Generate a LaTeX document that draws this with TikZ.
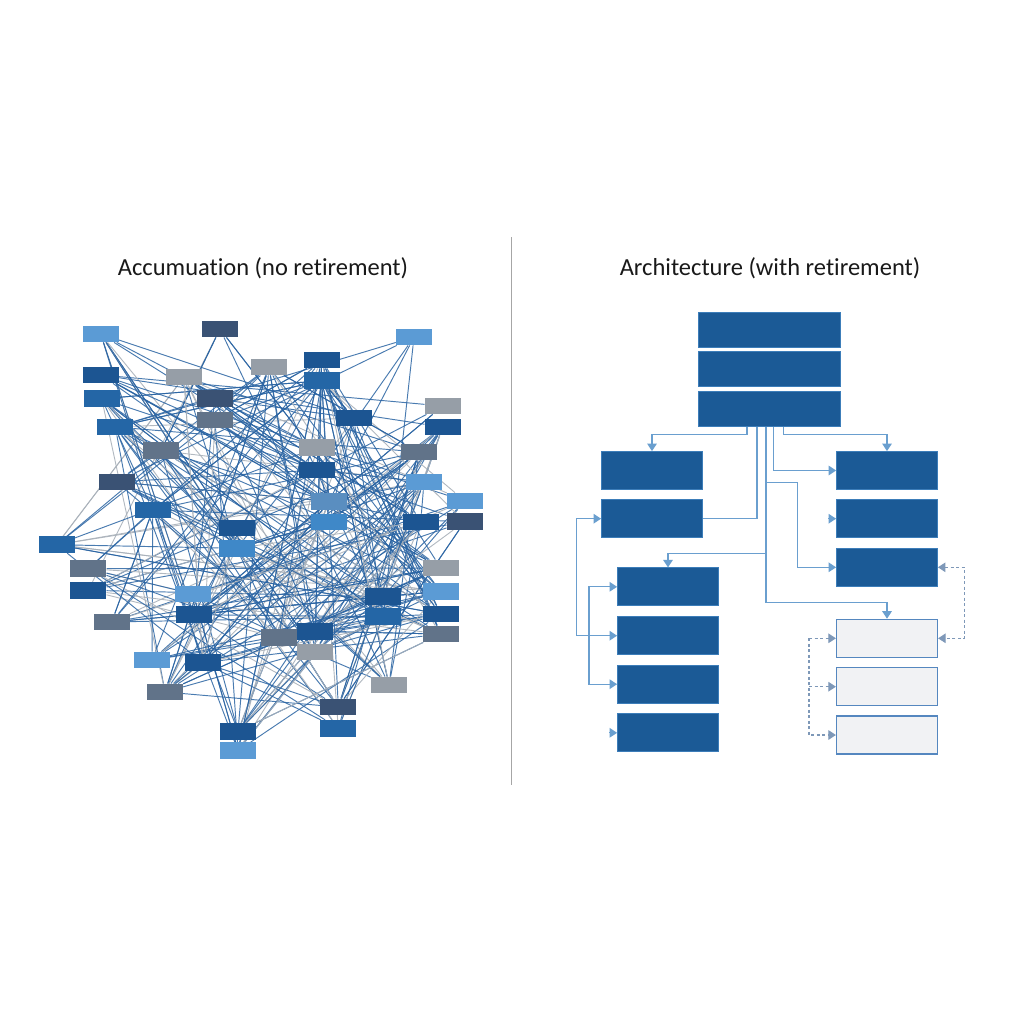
\documentclass[tikz,border=0pt]{standalone}
\usepackage{fontspec}
\setmainfont{Carlito}[Ligatures=NoCommon]
\usetikzlibrary{arrows.meta,calc}
\pgfdeclarelayer{bg}
\pgfdeclarelayer{paper}
\pgfsetlayers{paper,bg,main}
\definecolor{lb}{HTML}{5B9BD5}
\definecolor{ds}{HTML}{3A5274}
\definecolor{gr}{HTML}{969EA7}
\definecolor{db}{HTML}{1C5592}
\definecolor{bl}{HTML}{2466A6}
\definecolor{sl}{HTML}{617389}
\definecolor{mb}{HTML}{5A8EC0}
\definecolor{mc}{HTML}{3F88C8}
\definecolor{rblue}{HTML}{1B5A96}
\definecolor{rbord}{HTML}{3C7DB9}
\definecolor{rline}{HTML}{6A9FCF}
\definecolor{dline}{HTML}{7E98B8}
\definecolor{lfill}{HTML}{F1F2F4}
\definecolor{ledge}{HTML}{5587BF}
\definecolor{eblue}{HTML}{2A64A3}
\definecolor{egrey}{HTML}{A9B1BA}
\def\XS{{100.7,220,414,269,321.7,321.7,101,101.7,184,214.7,215,442.7,442.7,353.7,115.3,161,317,419,317,116.7,424,465,152.7,329,329.3,420.7,464.7,236.7,236.7,56.7,88.3,88.3,440.7,440.7,193.3,193.7,383.3,383.3,440.7,440.7,111.7,278.7,315,315,152,202.7,165,389,338.3,338.3,238,238}}
\def\YS{{334,329,337,367,360,380.7,375,398.7,377,398.7,420,406,427,418,427,450.7,447.7,452,470,482,482,501,510,501.3,522,522,521.7,528,548.3,544.7,568.7,590.3,568,591.3,594,614.7,596.7,616.7,614,634,622,637.7,631.3,652,660,662.7,692,685,707,728.3,731.3,750.7}}
\begin{document}
\begin{tikzpicture}[x=1pt,y=-1pt,
  lbx/.style={minimum width=36pt,minimum height=16.5pt,inner sep=0pt,draw=none},
  bedge/.style={eblue,line width=0.95pt,opacity=0.85},
  gedge/.style={egrey,line width=0.9pt,opacity=0.9},
  bigbox/.style={minimum width=142pt,minimum height=35pt,inner sep=0pt,fill=rblue,draw=rbord,line width=0.8pt},
  rbox/.style={minimum width=101pt,minimum height=38pt,inner sep=0pt,fill=rblue,draw=rbord,line width=0.8pt},
  lbox/.style={minimum width=101pt,minimum height=38pt,inner sep=0pt,fill=lfill,draw=ledge,line width=1.2pt},
  conn/.style={rline,line width=1.3pt},
  dconn/.style={dline,line width=1.1pt,dash pattern=on 3pt off 2.5pt},
  tip/.tip={Triangle[length=7.5pt,width=9.5pt]},
  title/.style={font=\fontsize{24.5}{30}\selectfont,text=black!90}]
\begin{pgfonlayer}{paper}
\fill[white] (0,0) rectangle (1024,1024);
\end{pgfonlayer}
\useasboundingbox (0,0) rectangle (1024,1024);

% titles and divider
\node[title] (t1) at (263,268) {Accumuation (no retirement)};
\node[title] (t2) at (770,268) {Architecture (with retirement)};
\coordinate (dv1) at (511,237);
\coordinate (dv2) at (511,785);
\draw[black!35,line width=1pt] (dv1) -- (dv2);

% left network nodes
\foreach \n/\x/\y/\c in {
1/100.7/334/lb, 2/220/329/ds, 3/414/337/lb, 4/269/367/gr, 5/321.7/360/db,
6/321.7/380.7/bl, 7/101/375/db, 8/101.7/398.7/bl, 9/184/377/gr, 10/214.7/398.7/ds,
11/215/420/sl, 12/442.7/406/gr, 13/442.7/427/db, 14/353.7/418/db, 15/115.3/427/bl,
16/161/450.7/sl, 17/317/447.7/gr, 18/419/452/sl, 19/317/470/db, 20/116.7/482/ds,
21/424/482/lb, 22/465/501/lb, 23/152.7/510/bl, 24/329/501.3/mb, 25/329.3/522/mc,
26/420.7/522/db, 27/464.7/521.7/ds, 28/236.7/528/db, 29/236.7/548.3/mc, 30/56.7/544.7/bl,
31/88.3/568.7/sl, 32/88.3/590.3/db, 33/440.7/568/gr, 34/440.7/591.3/lb, 35/193.3/594/lb,
36/193.7/614.7/db, 37/383.3/596.7/db, 38/383.3/616.7/bl, 39/440.7/614/db, 40/440.7/634/sl,
41/111.7/622/sl, 42/278.7/637.7/sl, 43/315/631.3/db, 44/315/652/gr, 45/152/660/lb,
46/202.7/662.7/db, 47/165/692/sl, 48/389/685/gr, 49/338.3/707/ds, 50/338.3/728.3/bl,
51/238/731.3/db, 52/238/750.7/lb}
  \node[lbx,fill=\c] (n\n) at (\x,\y) {};

% left network edges (kept mostly through the centre)
\begin{pgfonlayer}{bg}
\pgfmathsetseed{4711}
\foreach \k in {1,...,380}{
  \pgfmathrandominteger{\ea}{1}{52}
  \pgfmathrandominteger{\eb}{1}{52}
  \pgfmathrandominteger{\ec}{1}{4}
  \pgfmathsetmacro\dd{veclen((\XS[\ea-1]+\XS[\eb-1])/2-263,(\YS[\ea-1]+\YS[\eb-1])/2-540)}
  \ifnum\ea=\eb\relax\else
    \ifdim\dd pt<168pt\relax
      \ifnum\ec=1\relax
        \draw[gedge] (n\ea) -- (n\eb);
      \else
        \draw[bedge] (n\ea) -- (n\eb);
      \fi
    \fi
  \fi
}
\end{pgfonlayer}

% right architecture
\node[bigbox] (T1) at (769,329.7) {};
\node[bigbox] (T2) at (769,369.3) {};
\node[bigbox] (T3) at (769,409.3) {};
\node[rbox] (L1) at (652,470.5) {};
\node[rbox] (L2) at (652,518.7) {};
\node[rbox] (R1) at (887,470.5) {};
\node[rbox] (R2) at (887,518.7) {};
\node[rbox] (R3) at (887,567.3) {};
\node[rbox] (D1) at (668,586.8) {};
\node[rbox] (D2) at (668,635.7) {};
\node[rbox] (D3) at (668,684.2) {};
\node[rbox] (D4) at (668,732.8) {};
\node[lbox] (G1) at (887,638.3) {};
\node[lbox] (G2) at (887,686.7) {};
\node[lbox] (G3) at (887,735) {};

\coordinate (tr1) at (766,482.7);
\coordinate (tr2) at (766,553.3);
\coordinate (la) at (576.7,518.7);
\coordinate (lb) at (589,586.8);
\coordinate (dr) at (964.3,567.3);
\coordinate (dl1) at (809,638.3);
\coordinate (dl2) at (809,686.7);

\draw[conn,-tip] ([xshift=-22pt]T3.south) |- ([yshift=16.7pt]L1.north) -- (L1.north);
\draw[conn] ([xshift=-12pt]T3.south) |- (L2.east);
\draw[conn,-tip] ([xshift=-3pt]T3.south) |- ([yshift=16pt]G1.north) -- (G1.north);
\draw[conn,-tip] (tr2) -| (D1.north);
\draw[conn,-tip] (tr1) -| ([xshift=-38.3pt]R3.west) -- (R3.west);
\draw[conn,-tip] ([xshift=4.3pt]T3.south) |- (R1.west);
\draw[conn,-tip] ([xshift=14.7pt]T3.south) |- ([yshift=16.7pt]R1.north) -- (R1.north);
\draw[conn,tip-tip] (L2.west) -- (la) |- (D2.west);
\draw[conn,tip-tip] (D1.west) -- (lb) |- (D3.west);
\draw[conn,-tip] ([xshift=-8pt]D4.west) -- (D4.west);
\draw[conn,-tip] ([xshift=-8pt]R2.west) -- (R2.west);

\draw[dconn,tip-tip] (R3.east) -- (dr) |- (G1.east);
\draw[dconn,-tip] (dl1) -- (G1.west);
\draw[dconn,-tip] (dl1) |- (G3.west);
\draw[dconn,-tip] (dl2) -- (G2.west);
\end{tikzpicture}
\end{document}
